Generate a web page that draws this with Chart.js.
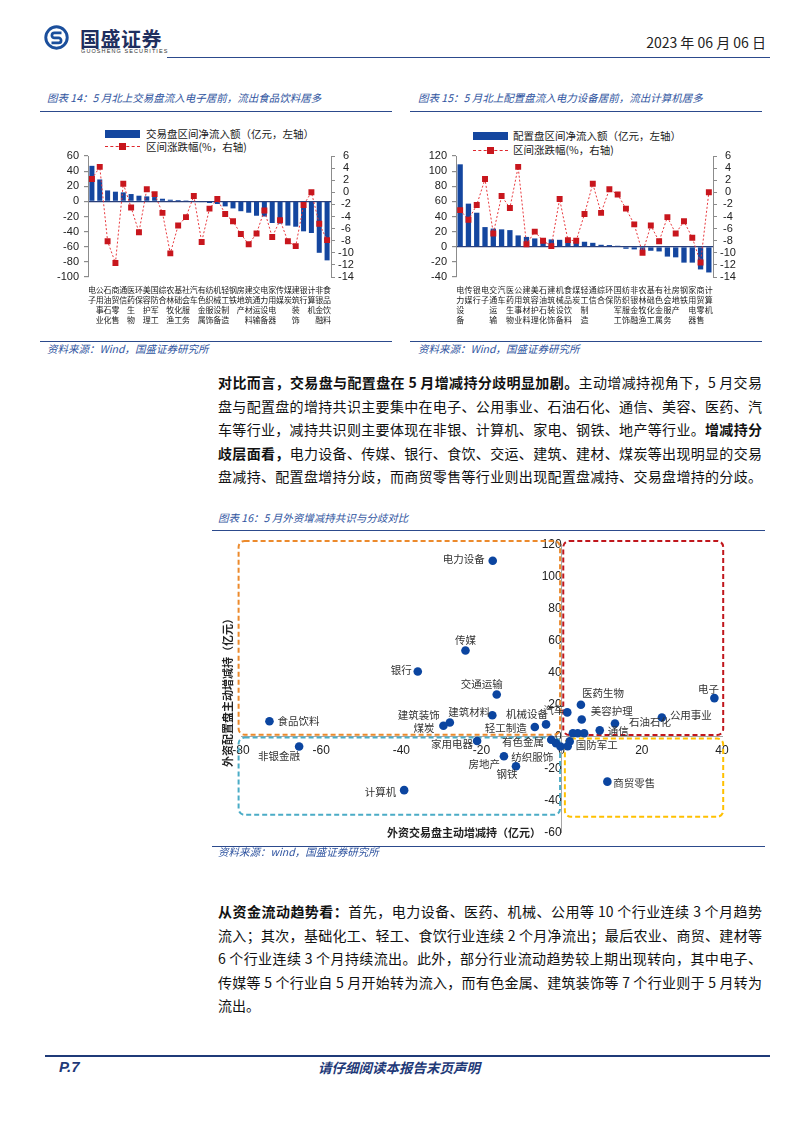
<!DOCTYPE html>
<html lang="zh-CN">
<head>
  <meta charset="UTF-8" />
  <title>外资增减持共识与分歧</title>
  <script src="https://cdn.jsdelivr.net/npm/chart.js"></script>
  <style>
    html, body { margin: 0; padding: 0; background: #fff; }
    body {
      width: 802px; height: 1133px; position: relative; overflow: hidden;
      font-family: "Noto Sans CJK SC", "Noto Sans", sans-serif; color: #111;
    }
    .abs { position: absolute; }
    .rule { position: absolute; height: 0; border-top: 1.5px solid #2c4a8c; }
    .cap { position: absolute; font-size: 10.5px; font-style: italic; color: #2f54a0; white-space: nowrap; line-height: 14px; }
    .legend { position: absolute; font-size: 10.5px; color: #222; line-height: 13px; white-space: nowrap; }
    .para { position: absolute; left: 218px; width: 544px; font-size: 14px; line-height: 23.5px; color: #111; }
    .para div { text-align: justify; text-align-last: justify; }
    .para div.last { text-align-last: left; }
    .para b { font-weight: 700; }
    canvas { position: absolute; }
  </style>
</head>
<body>
  <!-- header -->
  <svg class="abs" style="left:44px;top:25px" width="25" height="25" viewBox="0 0 24 24">
    <circle cx="12" cy="12" r="10.3" fill="none" stroke="#1b4f9c" stroke-width="2.8"/>
    <path d="M16.8 7.6 H10 a2.4 2.4 0 0 0 0 4.8 h4 a2.4 2.4 0 0 1 0 4.8 H7.2" fill="none" stroke="#1b4f9c" stroke-width="2.6"/>
  </svg>
  <div class="abs" style="left:80px;top:27px;font-size:20px;font-weight:700;color:#1f2f5f;letter-spacing:0.5px;line-height:24px">国盛证券</div>
  <div class="abs" style="left:81px;top:48px;font-size:5.5px;letter-spacing:1.1px;color:#333;font-family:'Liberation Sans';line-height:7px">GUOSHENG SECURITIES</div>
  <div class="abs" style="right:36px;top:33px;font-size:14px;color:#222;line-height:18px">2023 年 06 月 06 日</div>
  <div class="rule" style="left:167px;top:57px;width:603px"></div>

  <!-- chart 14 -->
  <div class="cap" style="left:47px;top:91px">图表 14：5 月北上交易盘流入电子居前，流出食品饮料居多</div>
  <div class="rule" style="left:40px;top:111px;width:352px"></div>
  <div class="abs" style="left:105px;top:130px;width:35px;height:8px;background:#14469f"></div>
  <div class="legend" style="left:146px;top:127px">交易盘区间净流入额（亿元，左轴）</div>
  <div class="abs" style="left:105px;top:146px;width:35px;border-top:1px dashed #e0282e"></div>
  <div class="abs" style="left:119px;top:143px;width:7px;height:7px;background:#c8161d"></div>
  <div class="legend" style="left:146px;top:140px">区间涨跌幅(%，右轴)</div>
  <canvas id="flowTrade" width="355" height="220" style="left:40px;top:118px"></canvas>
  <div class="rule" style="left:40px;top:341px;width:352px"></div>
  <div class="cap" style="left:47px;top:342px">资料来源：Wind，国盛证券研究所</div>

  <!-- chart 15 -->
  <div class="cap" style="left:418px;top:91px">图表 15：5 月北上配置盘流入电力设备居前，流出计算机居多</div>
  <div class="rule" style="left:410px;top:111px;width:352px"></div>
  <div class="abs" style="left:473px;top:132px;width:35px;height:8px;background:#14469f"></div>
  <div class="legend" style="left:513px;top:129px">配置盘区间净流入额（亿元，左轴）</div>
  <div class="abs" style="left:473px;top:150px;width:35px;border-top:1px dashed #e0282e"></div>
  <div class="abs" style="left:487px;top:147px;width:7px;height:7px;background:#c8161d"></div>
  <div class="legend" style="left:513px;top:143px">区间涨跌幅(%，右轴)</div>
  <canvas id="flowAlloc" width="360" height="220" style="left:410px;top:118px"></canvas>
  <div class="rule" style="left:410px;top:341px;width:352px"></div>
  <div class="cap" style="left:418px;top:342px">资料来源：Wind，国盛证券研究所</div>

  <!-- paragraph 1 -->
  <div class="para" style="top:371px">
    <div><b>对比而言，交易盘与配置盘在 5 月增减持分歧明显加剧。</b>主动增减持视角下，5 月交易</div>
    <div>盘与配置盘的增持共识主要集中在电子、公用事业、石油石化、通信、美容、医药、汽</div>
    <div>车等行业，减持共识则主要体现在非银、计算机、家电、钢铁、地产等行业。<b>增减持分</b></div>
    <div><b>歧层面看，</b>电力设备、传媒、银行、食饮、交运、建筑、建材、煤炭等出现明显的交易</div>
    <div>盘减持、配置盘增持分歧，而商贸零售等行业则出现配置盘减持、交易盘增持的分歧。</div>
  </div>

  <!-- chart 16 -->
  <div class="cap" style="left:218px;top:511px">图表 16：5 月外资增减持共识与分歧对比</div>
  <div class="rule" style="left:212px;top:530px;width:553px"></div>
  <canvas id="scatter" width="552" height="313" style="left:213px;top:532px"></canvas>
  <div class="rule" style="left:212px;top:846px;width:553px"></div>
  <div class="cap" style="left:218px;top:845px">资料来源：wind，国盛证券研究所</div>

  <!-- paragraph 2 -->
  <div class="para" style="top:900px">
    <div><b>从资金流动趋势看：</b>首先，电力设备、医药、机械、公用等 10 个行业连续 3 个月趋势</div>
    <div>流入；其次，基础化工、轻工、食饮行业连续 2 个月净流出；最后农业、商贸、建材等</div>
    <div>6 个行业连续 3 个月持续流出。此外，部分行业流动趋势较上期出现转向，其中电子、</div>
    <div>传媒等 5 个行业自 5 月开始转为流入，而有色金属、建筑装饰等 7 个行业则于 5 月转为</div>
    <div class="last">流出。</div>
  </div>

  <!-- footer -->
  <div class="abs" style="left:45px;top:1055px;width:725px;border-top:2px solid #1f3a78"></div>
  <div class="abs" style="left:59px;top:1058px;font-family:'Liberation Sans';font-size:15px;font-weight:700;font-style:italic;color:#1f3a78;line-height:18px">P.7</div>
  <div class="abs" style="left:318px;top:1058px;font-size:13.5px;font-weight:700;font-style:italic;color:#1f3a78;line-height:18px">请仔细阅读本报告末页声明</div>

  <script>
    // 图表14：交易盘
    const tradeCats = ['电子','公用事业','石油石化','商贸零售','通信','医药生物','环保','美容护理','国防军工','综合','农林牧渔','基础化工','社会服务','汽车','有色金属','纺织服饰','机械设备','轻工制造','钢铁','房地产','建筑材料','交通运输','电力设备','家用电器','传媒','煤炭','建筑装饰','银行','计算机','非银金融','食品饮料'];
    const tradeFlow = [47, 29, 14.5, 12.8, 11.9, 9.7, 7.5, 6.6, 5.7, 3.5, 2.2, 1.8, 1.3, 0.9, -0.9, -2.2, -3.5, -6.6, -9.3, -13, -15, -19, -20, -28.6, -29.5, -32, -33.5, -39.6, -41.8, -68, -78];
    const tradeChg = [2.2, 4.2, -8.1, -11.7, 1.4, -2.5, -6.6, 0.5, -0.3, -3.4, -10.1, -5.5, -4.1, -0.6, -8.2, -2.7, -1.1, -3.6, -4.8, -6.9, -8.6, -6.8, -3.0, -7.4, -4.6, -8.1, -8.9, -2.1, 0.0, -5.2, -7.9];

    // 图表15：配置盘
    const allocCats = ['电力设备','传媒','银行','电子','交通运输','汽车','医药生物','公用事业','建筑材料','美容护理','石油石化','建筑装饰','机械设备','食品饮料','煤炭','轻工制造','通信','综合','环保','国防军工','纺织服饰','非银金融','农林牧渔','基础化工','有色金属','社会服务','房地产','钢铁','家用电器','商贸零售','计算机'];
    const allocFlow = [109, 57, 45, 26, 24, 23, 22, 15, 13, 11, 9.8, 9.7, 9.2, 7.2, 6.8, 6.6, 5.2, 2.6, 2.2, 1.3, -2.7, -3.5, -4.4, -5.3, -6.2, -13, -14, -21, -21, -30, -34];
    const allocChg = [-2.95, -4.55, -2.1, 2.2, -6.8, -0.6, -2.6, 4.2, -8.6, -6.5, -8.0, -8.9, -1.1, -7.9, -8.0, -3.6, 1.4, -3.4, 0.5, -0.35, -2.7, -5.3, -10.0, -5.5, -8.1, -4.1, -6.8, -4.8, -7.5, -11.6, 0.0];

    // 图表16：交易盘(x) vs 配置盘(y) 主动增减持
    const industries = ['电力设备','传媒','银行','交通运输','建筑材料','食品饮料','建筑装饰','煤炭','机械设备','轻工制造','汽车','家用电器','非银金融','房地产','钢铁','计算机','医药生物','美容护理','通信','石油石化','公用事业','电子','商贸零售','有色金属','纺织服饰','环保','国防军工','基础化工','综合','农林牧渔','社会服务'];
    const tradeActive = [-17.2, -24.0, -35.9, -16.2, -17.3, -72.9, -27.9, -29.5, -3.9, -6.7, 1.4, -21.1, -65.5, -14.4, -11.4, -39.3, 4.8, 5.0, 9.5, 13.3, 25.0, 38.1, 11.4, -1.4, -2.6, -0.3, 2.0, 1.5, 2.8, 4.0, 5.6];
    const allocActive = [109.7, 53.7, 40.6, 26.3, 13.3, 9.6, 8.8, 6.8, 7.6, 6.0, 15.1, -2.7, -6.2, -12.3, -18.5, -33.4, 19.9, 10.7, 3.9, 8.2, 11.9, 24.0, -28.1, -4.1, -2.0, -6.2, -3.0, -6.0, 2.1, 2.1, 2.1];

    const leftTicks14 = { min: -100, max: 60, step: 20 };
    const leftTicks15 = { min: -40, max: 120, step: 20 };
    const rightTicks = { min: -14, max: 6, step: 2 };
    const xTicks16 = { min: -80, max: 40, step: 20 };
    const yTicks16 = { min: -60, max: 120, step: 20 };

    // label placement for the scatter: [dx, dy, align]
    const labelPlace = {
      '电力设备': [-8, -2, 'right'], '传媒': [0, -10, 'center'], '银行': [-6, -1, 'right'],
      '交通运输': [-15, -10, 'center'], '建筑材料': [-2, -3, 'right'], '食品饮料': [8, 0, 'left'],
      '建筑装饰': [-10, -7, 'right'], '煤炭': [-9, 2, 'right'], '机械设备': [-19, -10, 'center'],
      '轻工制造': [-8, 1, 'right'], '汽车': [-3, -2, 'right'], '家用电器': [-4, 3, 'right'],
      '非银金融': [-20, 9, 'center'], '房地产': [-4, 8, 'right'], '钢铁': [-9, 8, 'center'],
      '计算机': [-8, 2, 'right'], '医药生物': [1, -12, 'left'], '美容护理': [9, -8, 'left'],
      '通信': [8, 1, 'left'], '石油石化': [14, -1, 'left'], '公用事业': [8, -3, 'left'],
      '电子': [-6, -9, 'center'], '商贸零售': [6, 1, 'left'], '有色金属': [-12, -1, 'right'],
      '纺织服饰': [-40, 17, 'left'], '国防军工': [6, 4, 'left']
    };

    const quadrants = [
      { x1: -80.6, x2: -0.4, y1: 1.2, y2: 122, color: '#ec8a2c' },
      { x1: 0.4, x2: 40.3, y1: 1.0, y2: 122, color: '#c0161c' },
      { x1: -80.6, x2: -0.4, y1: -48.8, y2: -0.6, color: '#4bacc6' },
      { x1: 0.8, x2: 40.3, y1: -50, y2: -1.2, color: '#ffc000' }
    ];

    Chart.defaults.font.family = '"Liberation Sans", "Noto Sans CJK SC", sans-serif';
    Chart.defaults.color = '#222';
    Chart.defaults.animation = false;

    const barBlue = '#14469f';
    const red = '#c8161d';

    function flowChart(id, cats, flow, chg, left, leftWidth, rightWidth) {
      return new Chart(document.getElementById(id), {
        type: 'bar',
        data: {
          labels: cats,
          datasets: [
            {
              type: 'line',
              data: chg,
              yAxisID: 'y1',
              order: 0,
              borderColor: '#e8383d',
              borderWidth: 1,
              borderDash: [2, 2],
              pointStyle: 'rect',
              pointRadius: 4.2,
              pointBackgroundColor: red,
              pointBorderColor: red,
              pointBorderWidth: 0
            },
            {
              data: flow,
              yAxisID: 'y',
              order: 1,
              backgroundColor: barBlue,
              barPercentage: 0.64,
              categoryPercentage: 1
            }
          ]
        },
        options: {
          responsive: false,
          layout: { padding: { top: 38, left: 0, right: 0, bottom: 0 } },
          plugins: { legend: { display: false }, tooltip: { enabled: false } },
          scales: {
            x: {
              grid: { display: false },
              border: { display: false },
              afterFit: s => { s.height = 61; },
              ticks: {
                autoSkip: false, maxRotation: 0, minRotation: 0, padding: 0,
                color: '#222',
                font: { family: '"Noto Sans CJK SC"', size: 8, lineHeight: '10px' },
                callback: (v, i) => cats[i].split('')
              }
            },
            y: {
              position: 'left',
              min: left.min, max: left.max,
              afterFit: s => { s.width = leftWidth; },
              border: { display: true, color: '#8c8c8c' },
              grid: {
                color: c => (c.tick && c.tick.value === 0 ? '#2a3f7a' : 'transparent'),
                lineWidth: 1.2, tickColor: '#8c8c8c', tickLength: 4
              },
              ticks: { stepSize: left.step, autoSkip: false, padding: 5, font: { size: 11 } }
            },
            y1: {
              position: 'right',
              min: rightTicks.min, max: rightTicks.max,
              afterFit: s => { s.width = rightWidth; },
              border: { display: true, color: '#8c8c8c' },
              grid: { drawOnChartArea: false, tickColor: '#8c8c8c', tickLength: 4 },
              ticks: { stepSize: rightTicks.step, autoSkip: false, padding: 3, crossAlign: 'center', font: { size: 11 } }
            }
          }
        }
      });
    }

    flowChart('flowTrade', tradeCats, tradeFlow, tradeChg, leftTicks14, 48, 64);
    flowChart('flowAlloc', allocCats, allocFlow, allocChg, leftTicks15, 46, 57);

    const quadrantBoxes = {
      id: 'quadrantBoxes',
      beforeDatasetsDraw(chart) {
        const { ctx, scales: { x, y } } = chart;
        ctx.save();
        ctx.lineWidth = 2;
        ctx.setLineDash([5, 3]);
        quadrants.forEach(q => {
          const l = x.getPixelForValue(q.x1), r = x.getPixelForValue(q.x2);
          const t = y.getPixelForValue(q.y2), b = y.getPixelForValue(q.y1);
          ctx.strokeStyle = q.color;
          ctx.beginPath();
          ctx.roundRect(l, t, r - l, b - t, 6);
          ctx.stroke();
        });
        ctx.restore();
      }
    };

    const pointLabels = {
      id: 'pointLabels',
      afterDatasetsDraw(chart) {
        const ctx = chart.ctx;
        const meta = chart.getDatasetMeta(0);
        ctx.save();
        ctx.font = '10.5px "Noto Sans CJK SC"';
        ctx.fillStyle = '#333';
        ctx.textBaseline = 'middle';
        meta.data.forEach((pt, i) => {
          const p = labelPlace[industries[i]];
          if (!p) return;
          ctx.textAlign = p[2];
          ctx.fillText(industries[i], pt.x + p[0], pt.y + p[1]);
        });
        ctx.restore();
      }
    };

    const axisTitles = {
      id: 'axisTitles',
      afterDraw(chart) {
        const ctx = chart.ctx;
        ctx.save();
        ctx.font = 'bold 11px "Noto Sans CJK SC"';
        ctx.fillStyle = '#222';
        ctx.textAlign = 'center';
        ctx.textBaseline = 'middle';
        ctx.fillText('外资交易盘主动增减持（亿元）', 251, 301);
        ctx.translate(15, 158);
        ctx.rotate(-Math.PI / 2);
        ctx.fillText('外资配置盘主动增减持（亿元）', 0, 0);
        ctx.restore();
      }
    };

    new Chart(document.getElementById('scatter'), {
      type: 'scatter',
      data: {
        datasets: [{
          data: tradeActive.map((v, i) => ({ x: v, y: allocActive[i] })),
          pointRadius: 4.3,
          pointBackgroundColor: '#0b45a0',
          pointBorderWidth: 0
        }]
      },
      options: {
        responsive: false,
        layout: { padding: { left: 28, right: 43, top: 9, bottom: 11 } },
        plugins: { legend: { display: false }, tooltip: { enabled: false } },
        scales: {
          x: {
            type: 'linear',
            position: { y: 0 },
            min: xTicks16.min, max: xTicks16.max,
            border: { display: true, color: '#a6a6a6' },
            grid: { drawOnChartArea: false, drawTicks: false },
            ticks: { stepSize: xTicks16.step, autoSkip: false, padding: 7, font: { size: 12 } }
          },
          y: {
            type: 'linear',
            position: { x: 0 },
            min: yTicks16.min, max: yTicks16.max,
            border: { display: true, color: '#a6a6a6' },
            grid: { drawOnChartArea: false, drawTicks: false },
            ticks: { stepSize: yTicks16.step, autoSkip: false, padding: 5, font: { size: 12 } }
          }
        }
      },
      plugins: [quadrantBoxes, pointLabels, axisTitles]
    });
  </script>
</body>
</html>
